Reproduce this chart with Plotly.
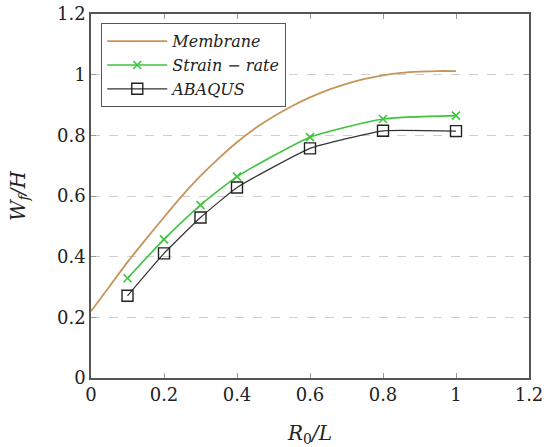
import plotly.graph_objects as go

membrane_x = [0, 0.05, 0.1, 0.15, 0.2, 0.25, 0.3, 0.35, 0.4, 0.45, 0.5, 0.55,
              0.6, 0.65, 0.7, 0.75, 0.8, 0.85, 0.9, 0.95, 1.0]
membrane_y = [0.22, 0.301, 0.382, 0.457, 0.530, 0.601, 0.666, 0.724, 0.777, 0.823,
              0.862, 0.896, 0.925, 0.950, 0.970, 0.986, 0.998, 1.006, 1.010, 1.012, 1.012]

pts_x = [0.1, 0.2, 0.3, 0.4, 0.6, 0.8, 1.0]
strain_y = [0.329, 0.457, 0.570, 0.664, 0.794, 0.854, 0.865]
abaqus_y = [0.271, 0.411, 0.529, 0.628, 0.757, 0.815, 0.814]

tick_vals = [0, 0.2, 0.4, 0.6, 0.8, 1.0, 1.2]
tick_text = ["0", "0.2", "0.4", "0.6", "0.8", "1", "1.2"]

serif = "DejaVu Serif"

fig = go.Figure()
fig.add_trace(go.Scatter(x=membrane_x, y=membrane_y, mode="lines",
                         line=dict(color="#c8945a", width=1.8, shape="spline", smoothing=0.6),
                         name="<i>Membrane</i>"))
fig.add_trace(go.Scatter(x=pts_x, y=strain_y, mode="lines+markers",
                         line=dict(color="#3ec43e", width=1.6, shape="spline", smoothing=0.5),
                         marker=dict(symbol="x-thin", size=8, line=dict(color="#3ec43e", width=1.6)),
                         name="<i>Strain − rate</i>"))
fig.add_trace(go.Scatter(x=pts_x, y=abaqus_y, mode="lines+markers",
                         line=dict(color="#333333", width=1.2, shape="spline", smoothing=0.4),
                         marker=dict(symbol="square-open", size=11, color="#222222",
                                     line=dict(color="#222222", width=1.4)),
                         name="<i>ABAQUS</i>"))

axis_common = dict(
    showline=True, linecolor="#555555", linewidth=1.6, mirror="ticks",
    ticks="inside", ticklen=5, tickcolor="#999999",
    tickfont=dict(family=serif, size=18, color="#222222"),
    zeroline=False, automargin=False,
)

fig.update_xaxes(range=[0, 1.2], tickvals=tick_vals, ticktext=tick_text,
                 showgrid=False,
                 title=dict(text="<i>R</i><sub>0</sub><i>/L</i>",
                            font=dict(family=serif, size=20, color="#222222"), standoff=24),
                 **axis_common)
fig.update_yaxes(range=[0, 1.2], tickvals=tick_vals, ticktext=tick_text,
                 showgrid=True, gridcolor="#cfcfcf", griddash="dash", gridwidth=1,
                 title=dict(text="<i>W</i><sub><i>f</i></sub><i>/H</i>",
                            font=dict(family=serif, size=20, color="#222222"), standoff=26),
                 **axis_common)

fig.update_layout(
    width=544, height=447,
    margin=dict(l=91, r=15, t=14, b=69, autoexpand=False),
    paper_bgcolor="white", plot_bgcolor="white",
    showlegend=True,
    legend=dict(x=0.023, y=0.975, xanchor="left", yanchor="top",
                bgcolor="white", bordercolor="#555555", borderwidth=1.2,
                font=dict(family=serif, size=16, color="#222222"),
                itemwidth=60, tracegroupgap=0),
)

fig.write_html("out.html")
